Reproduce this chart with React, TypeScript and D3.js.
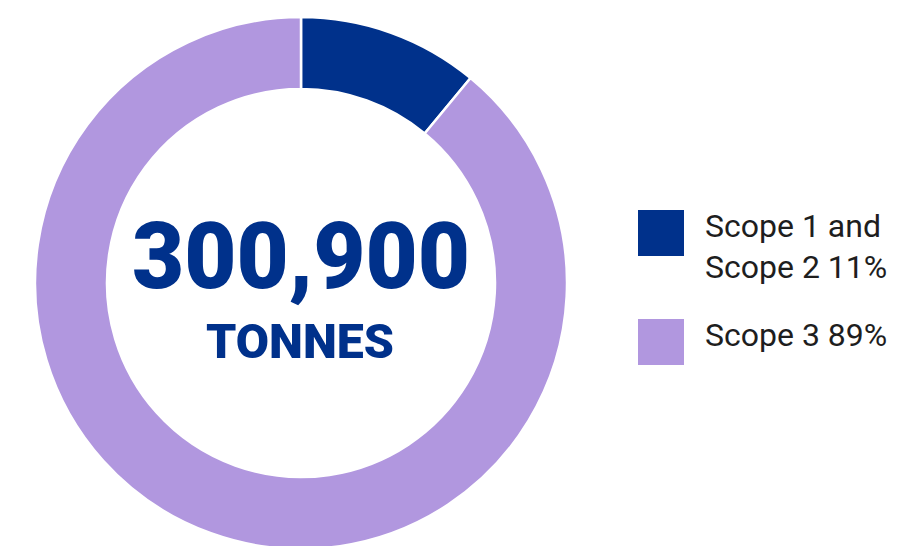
import React from "react";
import * as d3 from "d3";

const categories = ["Scope 1 and Scope 2", "Scope 3"];
const values = [11, 89];
const colors = ["#00318B", "#B197DF"];
const legendLines = [["Scope 1 and", "Scope 2 11%"], ["Scope 3 89%"]];
const totalLabel = "300,900";
const unitLabel = "TONNES";

export default function App() {
  const W = 897, H = 546;
  const cx = 301, cy = 283, rOuter = 266, rInner = 194;
  const pie = d3.pie<number>().sort(null).value((d) => d);
  const arcs = pie(values);
  const arc = d3.arc<d3.PieArcDatum<number>>().innerRadius(rInner).outerRadius(rOuter);
  const legendY = [210, 319];
  return (
    <svg width={W} height={H} style={{ position: "absolute", left: 0, top: 0, background: "#fff" }}>
      <g transform={`translate(${cx},${cy})`}>
        {arcs.map((a, i) => (
          <path key={i} d={arc(a) || ""} fill={colors[i]} stroke="#fff" strokeWidth={2.5} />
        ))}
        <text x={0} y={5} textAnchor="middle" fontFamily="Roboto" fontWeight={900} fontSize={93}
          fill="#00318B" textLength={338} lengthAdjust="spacingAndGlyphs">{totalLabel}</text>
        <text x={-1} y={75} textAnchor="middle" fontFamily="Roboto" fontWeight={900} fontSize={49}
          fill="#00318B" textLength={188} lengthAdjust="spacingAndGlyphs">{unitLabel}</text>
      </g>
      {categories.map((c, i) => (
        <g key={c}>
          <rect x={638} y={legendY[i]} width={46} height={46} fill={colors[i]} />
          {legendLines[i].map((t, j) => (
            <text key={j} x={705} y={legendY[i] + 27 + j * 41} fontFamily="Roboto" fontSize={32}
              fill="#1e1e1e">{t}</text>
          ))}
        </g>
      ))}
    </svg>
  );
}
